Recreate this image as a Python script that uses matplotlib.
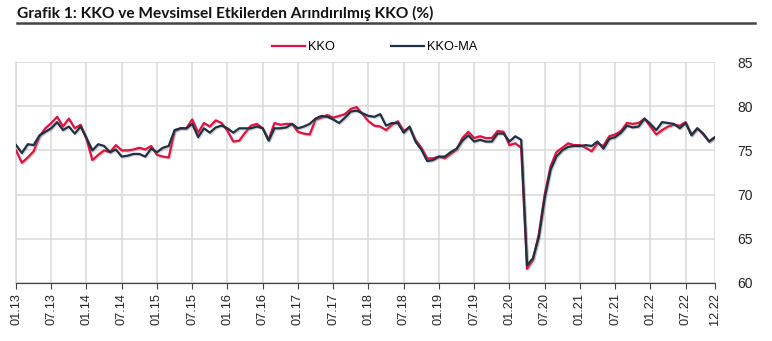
import matplotlib
matplotlib.use("Agg")
import matplotlib.pyplot as plt
import matplotlib.patheffects as pe
import numpy as np

# Monthly data, 01.2013 - 12.2022
kko = [
    75.0, 73.6, 74.2, 74.9, 76.6, 77.5, 78.1, 78.8, 77.7, 78.6, 77.5, 77.9,  # 2013
    76.3, 73.9, 74.5, 75.0, 74.8, 75.6, 75.0, 75.0, 75.1, 75.3, 75.1, 75.5,  # 2014
    74.5, 74.3, 74.2, 77.2, 77.5, 77.5, 78.5, 77.0, 78.1, 77.7, 78.4, 78.1,  # 2015
    77.2, 76.0, 76.1, 77.0, 77.8, 78.0, 77.5, 76.2, 78.1, 77.9, 78.0, 78.0,  # 2016
    77.1, 76.9, 76.8, 78.5, 78.7, 79.0, 78.7, 78.9, 79.1, 79.7, 79.9, 79.1,  # 2017
    78.3, 77.8, 77.7, 77.3, 77.9, 78.3, 77.2, 77.6, 76.2, 75.3, 74.1, 74.1,  # 2018
    74.3, 74.1, 74.6, 75.1, 76.4, 77.1, 76.4, 76.6, 76.4, 76.4, 77.2, 77.1,  # 2019
    75.6, 75.8, 75.3, 61.6, 62.6, 65.5, 70.0, 73.2, 74.8, 75.3, 75.8, 75.6,  # 2020
    75.6, 75.3, 74.9, 75.8, 75.5, 76.6, 76.8, 77.2, 78.1, 78.0, 78.1, 78.6,  # 2021
    77.7, 76.8, 77.3, 77.7, 77.9, 77.8, 78.2, 76.8, 77.5, 76.8, 76.0, 76.5,  # 2022
]
kko_ma = [
    75.6, 74.7, 75.7, 75.6, 76.7, 77.1, 77.5, 78.2, 77.3, 77.7, 76.9, 77.7,
    76.4, 75.0, 75.7, 75.5, 74.8, 75.1, 74.3, 74.4, 74.6, 74.6, 74.3, 75.2,
    74.8, 75.3, 75.5, 77.3, 77.5, 77.5, 78.0, 76.5, 77.5, 77.0, 77.6, 77.8,
    77.5, 77.0, 77.5, 77.5, 77.5, 77.7, 77.5, 76.1, 77.5, 77.5, 77.6, 78.0,
    77.5, 77.7, 78.0, 78.6, 78.9, 78.8, 78.5, 78.1, 78.7, 79.4, 79.5, 79.2,
    78.9, 78.8, 79.1, 77.8, 78.1, 78.1, 77.0, 77.7, 76.0, 75.1, 73.8, 73.9,
    74.3, 74.3, 74.8, 75.2, 76.1, 76.7, 76.0, 76.2, 76.0, 76.0, 76.9, 76.9,
    76.0, 76.6, 76.2, 62.0, 62.8, 65.2, 69.6, 72.8, 74.3, 75.0, 75.4, 75.5,
    75.5, 75.6, 75.5, 76.0, 75.2, 76.3, 76.5, 77.0, 77.8, 77.6, 77.7, 78.6,
    78.0, 77.3, 78.2, 78.1, 78.0, 77.5, 78.1, 76.7, 77.5, 76.9, 76.0, 76.5,
]
tick_pos = list(range(0, 120, 6)) + [119]
tick_labels = [f"{m:02d}.{y:02d}" for y in range(13, 23) for m in (1, 7)] + ["12.22"]
y_ticks = [60, 65, 70, 75, 80, 85]

RED = "#E0103F"
NAVY = "#1F3044"

fig = plt.figure(figsize=(7.72, 3.41), dpi=100)
ax = fig.add_axes([16 / 772, 1 - 283 / 341, (715 - 16) / 772, (283 - 62) / 341])

x = np.arange(len(kko))
shadow = [pe.SimpleLineShadow(offset=(0.8, -0.8), shadow_color="gray", alpha=0.35), pe.Normal()]
ax.plot(x, kko, color=RED, lw=1.6, label="KKO", path_effects=shadow, zorder=3)
ax.plot(x, kko_ma, color=NAVY, lw=1.6, label="KKO-MA", path_effects=shadow, zorder=4)

ax.set_xlim(0, 119)
ax.set_ylim(60, 85)
ax.set_xticks(tick_pos)
ax.set_xticklabels(tick_labels, rotation=90, fontsize=9.2, family="Liberation Sans", color="#222222")
ax.set_yticks(y_ticks)
ax.yaxis.tick_right()
ax.tick_params(axis="y", length=0, pad=16, labelsize=10, labelcolor="#222222")
for t in ax.get_yticklabels():
    t.set_family("Liberation Sans")
ax.tick_params(axis="x", length=4, width=0.8, color="#444444", pad=3)

ax.grid(True, color="#D9D9D9", lw=1.1)
ax.set_axisbelow(True)
for s in ["top", "right"]:
    ax.spines[s].set_visible(False)
ax.spines["left"].set_color("#D9D9D9")
ax.spines["left"].set_linewidth(1.1)
ax.spines["bottom"].set_color("#444444")
ax.spines["bottom"].set_linewidth(0.9)

leg = fig.legend(loc="center", bbox_to_anchor=(0.485, 1 - 47 / 341), ncol=2, frameon=False,
                 handlelength=2.6, columnspacing=4.4, handletextpad=0.2,
                 prop={"family": "Liberation Sans", "size": 9.2})
for line in leg.get_lines():
    line.set_path_effects([])

fig.text(17 / 772, 1 - 13 / 341, "Grafik 1: KKO ve Mevsimsel Etkilerden Arındırılmış KKO (%)",
         fontsize=11.2, fontweight="bold", family="Lato", va="center", ha="left", color="#111111")
fig.add_artist(plt.Line2D([17 / 772, 755 / 772], [1 - 23 / 341, 1 - 23 / 341],
                          color="#444444", lw=1.8))

fig.savefig("out.png", dpi=100)
